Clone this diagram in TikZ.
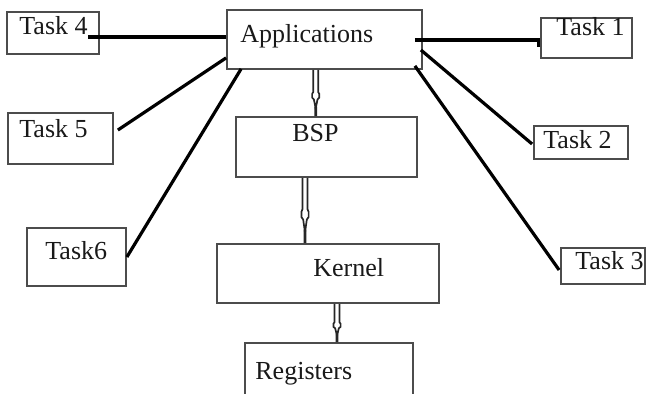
\documentclass[tikz,border=0pt]{standalone}
\usepackage{fontspec}
\setmainfont{Liberation Serif}
\usetikzlibrary{calc}
\tikzset{
  box/.style={draw=black!70, line width=0.9pt, inner sep=0pt, fill=none},
  lbl/.style={inner sep=0pt, font=\fontsize{13pt}{15pt}\selectfont, text=black!90},
  conn/.style={draw=black, line width=1.6pt},
  harr/.style={draw=black!85, line width=0.85pt, line join=miter}
}
\newcommand\harrow[2]{%
  \draw[harr] ($(#1)+(-2.5,0)$) -- ($(#1)!0.48!(#2)+(-2.5,0)$) -- ($(#1)!0.52!(#2)+(-3.6,0)$)
    -- ($(#1)!0.6!(#2)+(-3.6,0)$) -- ($(#1)!0.64!(#2)+(-1.8,0)$) -- ($(#1)!0.84!(#2)$)
    -- ($(#1)!0.64!(#2)+(1.8,0)$) -- ($(#1)!0.6!(#2)+(3.6,0)$) -- ($(#1)!0.52!(#2)+(3.6,0)$)
    -- ($(#1)!0.48!(#2)+(2.5,0)$) -- ($(#1)+(2.5,0)$);
  \draw[harr, line width=1.4pt] ($(#1)!0.8!(#2)$) -- (#2);
}
\begin{document}
\begin{tikzpicture}[x=0.5pt, y=-0.5pt]
\useasboundingbox (0,0) rectangle (648,394);
% boxes
\node[box, minimum width=46pt, minimum height=21pt] (t4) at (53,33) {};
\node[box, minimum width=97.5pt, minimum height=29.5pt] (app) at (324.5,39.5) {};
\node[box, minimum width=45.5pt, minimum height=20pt] (t1) at (586.5,38) {};
\node[box, minimum width=52.5pt, minimum height=25.5pt] (t5) at (60.5,138.5) {};
\node[box, minimum width=90.5pt, minimum height=30pt] (bsp) at (326.5,147) {};
\node[box, minimum width=47pt, minimum height=16.5pt] (t2) at (581,142.5) {};
\node[box, minimum width=49.5pt, minimum height=29pt] (t6) at (76.5,257) {};
\node[box, minimum width=111pt, minimum height=29.5pt] (kern) at (328,273.5) {};
\node[box, minimum width=42pt, minimum height=18pt] (t3) at (603,266) {};
\node[box, minimum width=84pt, minimum height=38.5pt] (reg) at (329,381.5) {};
% labels
\node[lbl, anchor=base west] (t4l) at (19,35) {Task 4};
\node[lbl, anchor=base west] (appl) at (240,43) {Applications};
\node[lbl, anchor=base west] (t1l) at (556,36) {Task 1};
\node[lbl, anchor=base west] (t5l) at (19,138) {Task 5};
\node[lbl, anchor=base west] (bspl) at (292,142) {BSP};
\node[lbl, anchor=base west] (t2l) at (543,149) {Task 2};
\node[lbl, anchor=base west] (t6l) at (45,260) {Task6};
\node[lbl, anchor=base west] (kernl) at (313,277) {Kernel};
\node[lbl, anchor=base west] (t3l) at (575,270) {Task 3};
\node[lbl, anchor=base west] (regl) at (255,380) {Registers};
% connectors
\coordinate (l4s) at ([shift={(0,2)}]t4l.base east);
\draw[conn] (l4s) -- (l4s -| app.west);
\draw[conn] ([shift={(-8,0.5)}]app.east) -- ([shift={(-2,2)}]t1.west) -- ++(0,7);
\draw[conn] ([shift={(4,-8.5)}]t5.east) -- ([shift={(0,-12)}]app.south west);
\draw[conn] (t6.east) -- ([shift={(15,-1)}]app.south west);
\draw[conn] ([shift={(-2,10.5)}]app.east) -- ([shift={(-1,1.5)}]t2.west);
\draw[conn] ([shift={(-8,-4)}]app.south east) -- ([shift={(-1,4)}]t3.west);
% hollow arrows
\coordinate (ax1) at (315.7,0);
\coordinate (ax2) at (305,0);
\coordinate (ax3) at (337,0);
\harrow{app.south -| ax1}{bsp.north -| ax1}
\harrow{bsp.south -| ax2}{kern.north -| ax2}
\harrow{kern.south -| ax3}{reg.north -| ax3}
\end{tikzpicture}
\end{document}
